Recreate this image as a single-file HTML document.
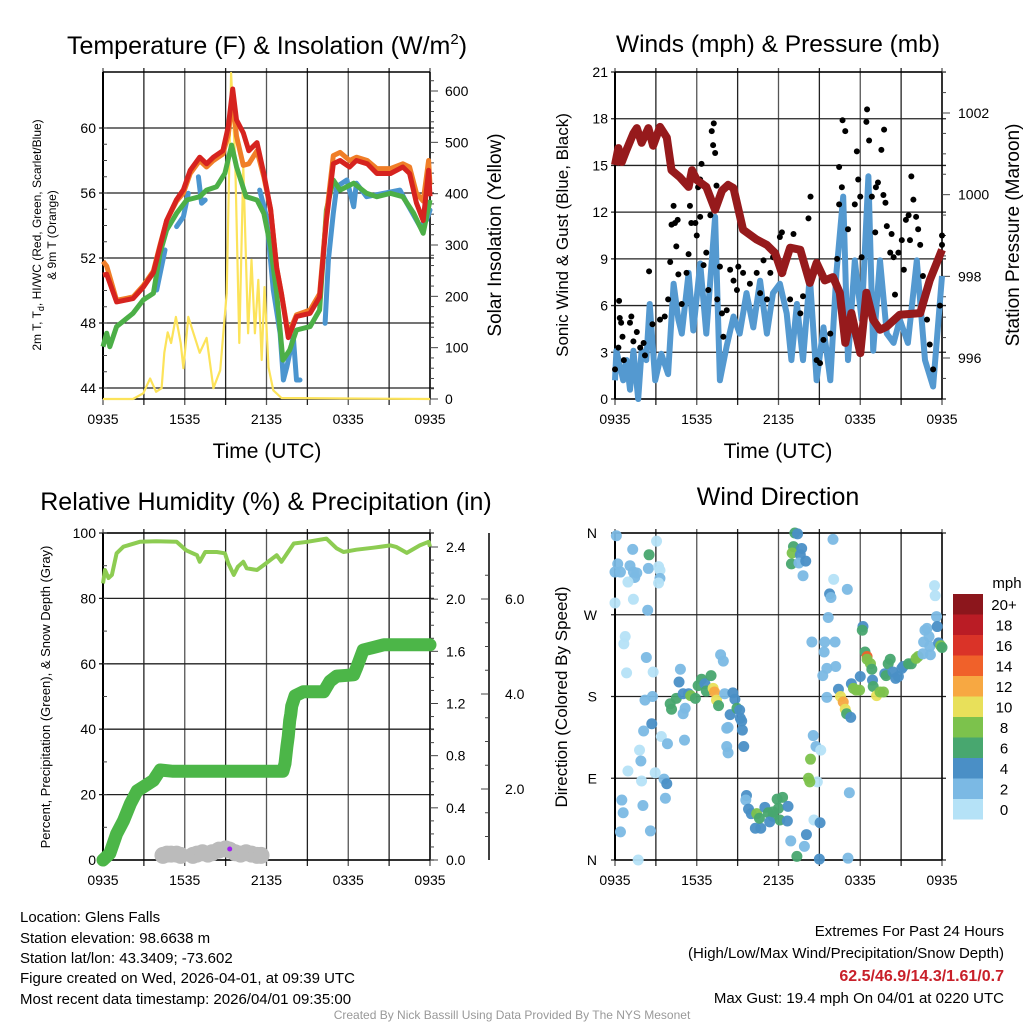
<!DOCTYPE html>
<html><head><meta charset="utf-8"><style>
html,body{margin:0;padding:0;background:#fff;}
svg{display:block;font-family:"Liberation Sans",Arial,sans-serif;}
</style></head><body>
<svg id="c" width="1024" height="1024" viewBox="0 0 1024 1024" xmlns="http://www.w3.org/2000/svg">
<rect width="1024" height="1024" fill="#fff"/>
<g id="layer"></g>
<text x="267" y="54" font-size="25" text-anchor="middle">Temperature (F) &amp; Insolation (W/m<tspan dy="-10" font-size="15">2</tspan><tspan dy="10">)</tspan></text>
<text x="778" y="52" font-size="24.5" text-anchor="middle">Winds (mph) &amp; Pressure (mb)</text>
<text x="266" y="510" font-size="25" text-anchor="middle">Relative Humidity (%) &amp; Precipitation (in)</text>
<text x="778" y="505" font-size="25" text-anchor="middle">Wind Direction</text>
<text x="267" y="458" font-size="21" text-anchor="middle">Time (UTC)</text>
<text x="778" y="458" font-size="21" text-anchor="middle">Time (UTC)</text>
<text transform="translate(41,235) rotate(-90)" font-size="12" text-anchor="middle">2m T, T<tspan dy="3" font-size="9">d</tspan><tspan dy="-3">, HI/WC (Red, Green, Scarlet/Blue)</tspan></text>
<text transform="translate(56,235) rotate(-90)" font-size="12" text-anchor="middle">&amp; 9m T (Orange)</text>
<text transform="translate(501,235) rotate(-90)" font-size="19" text-anchor="middle">Solar Insolation (Yellow)</text>
<text transform="translate(568,235) rotate(-90)" font-size="17" text-anchor="middle">Sonic Wind &amp; Gust (Blue, Black)</text>
<text transform="translate(1019,235) rotate(-90)" font-size="19" text-anchor="middle">Station Pressure (Maroon)</text>
<text transform="translate(50,697) rotate(-90)" font-size="13" text-anchor="middle">Percent, Precipitation (Green), &amp; Snow Depth (Gray)</text>
<text transform="translate(567,697) rotate(-90)" font-size="17" text-anchor="middle">Direction (Colored By Speed)</text>
<g font-size="15">
<text x="20" y="922">Location: Glens Falls</text>
<text x="20" y="943">Station elevation: 98.6638 m</text>
<text x="20" y="963">Station lat/lon: 43.3409; -73.602</text>
<text x="20" y="983">Figure created on Wed, 2026-04-01, at 09:39 UTC</text>
<text x="20" y="1004">Most recent data timestamp: 2026/04/01 09:35:00</text>
</g>
<g font-size="15" text-anchor="end">
<text x="1004" y="936">Extremes For Past 24 Hours</text>
<text x="1004" y="958">(High/Low/Max Wind/Precipitation/Snow Depth)</text>
<text x="1004" y="981" fill="#c8202a" font-weight="bold" font-size="16">62.5/46.9/14.3/1.61/0.7</text>
<text x="1004" y="1003">Max Gust: 19.4 mph On 04/01 at 0220 UTC</text>
</g>
<text x="512" y="1019" font-size="12" fill="#999" text-anchor="middle">Created By Nick Bassill Using Data Provided By The NYS Mesonet</text>
</svg>
<script>
// ---- Temperature panel data (hours since 0935 UTC) ----
const redT=[0,0.27,1.0,2.2,2.96,3.7,4.18,4.67,5.4,5.9,6.4,7.1,7.6,8.1,8.8,9.2,9.52,9.8,10.3,10.7,11.3,11.8,12.3,12.75,13.1,13.6,14.2,15.2,15.9,16.4,16.9,17.4,18.1,18.6,19.4,20.1,21.1,22.0,22.5,23.0,23.5,23.9,24];
const redV=[50.95,51,49.3,49.5,50.2,51.1,52.7,54.3,55.6,56.2,57.4,58.2,57.8,58.2,58.6,60.1,62.4,60.5,59.7,58.6,59.1,57.2,55,51.4,49.8,47.1,48.4,48.6,49.6,54.3,57.8,58,57.6,58,57.8,57.2,57.2,57.6,57.2,55.4,54.3,57.4,55.8];
const orangeV=[51.8,51.5,49.4,49.6,50.3,51.2,52.8,54.3,55.5,56.0,57.2,58.0,57.6,58.0,58.4,59.6,61.8,59.5,57.7,57.8,58.6,57.0,55,51.4,49.8,47.3,48.5,48.8,49.8,54.6,58.3,58.5,58.0,58.2,58.0,57.5,57.5,57.8,57.6,56.0,55.5,58.0,56.5];
const greenT=[0,0.27,0.5,1.0,2.2,2.96,3.7,4.18,4.67,5.4,6.14,7.1,7.6,8.34,8.95,9.44,9.8,10.5,11.3,11.8,12.3,12.75,13.2,13.7,14.2,15.2,15.9,16.4,16.9,17.4,18.4,19.35,20.1,21.1,22.0,22.8,23.5,24];
const greenV=[46.54,47.37,46.54,47.78,48.6,49.42,49.83,52.29,53.72,54.75,55.57,55.77,56.18,56.39,57.21,58.95,57.62,55.77,55.57,54.75,52.7,49.83,45.72,46.34,47.57,47.78,48.8,54.95,56.8,56.18,56.6,55.98,55.77,55.98,55.77,54.75,53.52,55.57];
const blueT=[3.94,4.55,null,5.4,5.9,6.26,null,7.0,7.24,7.5,null,11.5,12.0,12.25,12.5,13.0,13.24,13.5,13.97,14.2,14.46,null,16.3,16.54,16.9,17.15,17.9,18.4,18.6,19.35,20.6,21.8,22.3,23.27,23.75,24];
const blueV=[50.03,52.49,null,53.93,54.54,55.98,null,57.0,55.37,55.57,null,56.18,54.54,52.29,50.03,47.37,44.49,45.31,47.17,44.49,44.49,null,47.98,51.88,54.75,56.39,56.8,55.16,56.6,55.77,55.98,56.18,55.37,53.93,54.34,54.95];
const solarT=[0,2.2,2.95,3.46,3.9,4.3,4.5,4.75,5.0,5.35,5.7,5.9,6.26,6.64,7.1,7.6,8.1,8.6,9.08,9.4,9.7,10.0,10.3,10.65,10.9,11.15,11.4,11.65,11.85,12.15,12.5,13.1,24];
const solarV=[0,0,11,40,14,21,90,130,109,160,109,60,160,128,90,119,21,56,206,635,466,109,452,128,271,128,232,76,218,62,17,2,0];
// ---- Winds panel data ----
const windT=[0,0.1,0.6,0.85,1.1,1.35,1.7,1.95,2.3,2.55,2.95,3.4,3.9,4.3,4.65,4.9,5.4,5.75,6.25,6.7,7.35,7.7,8.2,8.7,9.15,9.65,10.15,10.65,11.15,11.6,12.1,12.6,12.95,13.35,13.8,14.3,14.8,15.3,15.8,16.25,16.75,17.1,17.6,18.1,18.6,18.95,19.45,19.95,20.45,20.9,21.5,22.15,22.75,23.35,24];
const windV=[1.2,3.1,1.2,2.5,0.6,3.1,0,3.1,2.5,6.1,1.2,2.9,1.6,7.4,5.1,4.2,8.1,4.4,8.7,4.2,11.7,1.2,3.4,5.3,4.2,6.8,4.6,7.6,4.2,6.8,7.4,5.5,2.5,6.1,2.5,7.9,1.2,4.6,1.2,8.1,13,2.5,8.9,5.1,14.3,3.1,8.9,4.2,3.6,5.1,3.6,8.9,2.5,0.8,7.9];
const gustT=[0,0.25,0.3,0.45,0.35,0.55,0.65,1.1,1.2,1.35,1.6,1.85,2.1,2.2,2.5,2.75,3.3,3.65,3.9,4.05,4.15,4.3,4.4,4.5,4.6,4.65,4.9,5.25,5.4,5.5,5.6,5.9,6.0,6.1,6.25,6.35,6.25,6.5,6.7,6.85,7.0,7.1,7.25,7.2,7.35,7.45,7.5,7.7,7.85,7.95,8.2,8.45,8.7,8.95,9.05,9.4,9.9,10.4,10.65,10.9,11.15,11.4,11.6,12.1,12.25,12.35,12.85,13.1,13.6,13.8,14.2,14.35,14.8,15.05,15.3,15.8,16.3,16.45,16.45,16.65,16.7,16.9,17.1,17.6,17.75,17.85,18.0,18.1,18.45,18.5,18.65,18.85,19.1,19.15,19.3,19.55,19.7,19.75,19.85,19.95,20.2,20.3,20.45,20.55,20.8,21.05,21.2,21.35,21.55,21.65,21.75,21.9,22.1,22.25,22.4,22.6,22.9,23.1,23.35,23.85,24.0,24.0];
const gustV=[1.9,3.3,6.3,4.9,5.2,4.0,2.5,4.9,5.3,3.7,4.3,3.3,3.6,2.8,8.2,4.8,5.1,5.3,6.4,8.8,11.2,12.4,11.3,9.8,11.5,8.0,6.1,8.1,9.3,12.4,11.3,11.3,10.5,13.6,14.1,15.1,11.7,8.6,9.4,7.0,11.8,17.2,17.7,16.3,15.8,13.7,6.4,8.5,5.5,4.0,5.7,8.3,7.6,7.0,8.5,8.1,7.4,8.1,6.8,8.9,6.4,8.1,9.1,10.4,10.7,8.1,6.4,10.6,5.5,6.6,11.6,13.0,2.5,2.3,3.8,4.2,9.0,12.5,14.9,13.6,17.9,17.2,10.9,12.5,15.9,14.1,13.0,9.1,17.8,18.6,16.6,13.0,10.7,13.6,13.9,16.0,13.1,17.3,12.6,11.1,9.4,10.6,9.1,6.7,9.4,10.2,8.3,11.5,11.8,10.2,14.3,12.8,11.7,10.9,9.9,7.9,5.1,3.5,1.9,6.0,9.9,10.5];
const presT=[0,0.25,0.5,0.85,1.35,1.6,1.95,2.45,2.8,3.3,3.8,4.15,4.75,5.4,5.65,6.0,6.7,7.35,7.85,8.3,8.7,9.4,10.4,11.15,11.75,12.25,12.85,13.6,14.3,14.8,15.4,16.0,16.5,16.9,17.35,18.0,18.45,18.95,19.45,19.95,20.9,22.4,23.1,24];
const presV=[1000.73,1001.14,1000.8,1001.1,1001.5,1001.63,1001.27,1001.63,1001.2,1001.66,1001.4,1000.6,1000.43,1000.19,1000.6,1000.36,1000.19,999.63,1000.1,1000.24,1000.16,999.14,998.9,998.77,998.57,998.08,998.7,998.65,997.84,998.33,997.9,997.98,997.6,996.37,997.1,996.12,997.6,996.93,996.69,996.77,997.06,997.1,997.9,998.65];
// ---- Humidity / precipitation data ----
const rhT=[0,0.15,0.4,0.65,1.0,1.5,2.7,3.9,5.4,6.1,6.9,7.1,7.5,8.35,8.95,9.2,9.6,9.9,10.3,10.55,11.3,11.8,12.75,13.1,14,15,16.4,17.15,17.65,18.6,19.85,21.1,21.55,22.3,23.25,23.9,24];
const rhV=[84.6,88.7,86.2,87.2,93.8,95.8,97.3,97.5,97.3,94.7,93.2,91.2,94.2,94.2,93.8,90.7,87.2,89.7,91.2,89.2,88.7,90.2,93.2,91.2,96.8,97.3,98.3,95.3,94.2,94.9,95.5,96.2,95.7,93.9,96.2,97.3,95.8];
const precipT=[0,0.5,1.0,1.5,2.0,2.5,2.95,3.7,4.2,5.15,8.85,13.2,13.36,13.5,13.6,13.7,13.78,13.85,14.1,14.7,16.2,16.65,17.15,18.4,18.6,19.1,19.85,20.6,24];
const precipV=[0,0.05,0.2,0.3,0.43,0.53,0.56,0.61,0.69,0.68,0.68,0.68,0.74,0.87,0.95,1.07,1.12,1.18,1.26,1.29,1.29,1.37,1.41,1.42,1.47,1.61,1.63,1.65,1.65];
const snowT=[4.4,4.7,5.0,5.4,5.7,6.6,6.9,7.3,7.7,8.0,8.5,9.0,9.3,9.7,10.1,10.5,10.9,11.3,11.6];
const snowV=[0.02,0.03,0.03,0.03,0.02,0.02,0.03,0.04,0.03,0.04,0.06,0.07,0.06,0.04,0.03,0.04,0.03,0.02,0.02];
// ---- Wind direction data ----
const dirT=[0.1,1.3,2.5,3.05,0.2,0,0.4,1.1,1.35,1.6,1.45,0.95,2.45,3.2,3.3,3.3,3.2,1.35,0,2.4,0.75,0.65,2.3,0.85,2.8,2.75,2.2,2.7,2.1,3.4,3.85,1.8,1.9,0.95,1.95,2.95,3.6,3.8,3.7,0.5,0.6,2.05,0.4,2.6,1.7,
4.7,4.05,4.15,4.5,5.0,5.4,5.55,5.9,6.1,6.35,6.6,7.05,6.7,7.2,7.3,7.45,7.6,8.05,8.65,8.8,8.45,8.95,9.15,9.2,9.3,9.35,9.45,8.2,8.3,5.15,5.0,5.1,8.2,8.3,7.75,7.95,4.8,
9.65,9.6,9.8,10.0,10.4,10.3,10.7,10.6,11.0,11.25,11.6,11.9,12.3,12.0,12.1,12.7,12.65,11.35,11.6,14.05,12.9,13.9,13.35,15.0,17.1,14.6,15.05,17.2,14.85,14.2,14.3,14.35,14.55,14.75,15.1,
13.2,13.4,13.1,13.0,13.7,13.6,12.95,13.5,14.0,13.8,16.0,16.05,17.05,15.75,15.85,15.65,
14.45,15.4,16.15,15.35,15.55,15.25,16.2,15.55,16.4,16.55,16.75,16.9,17.0,17.3,18.0,18.2,18.15,18.35,18.5,18.5,18.75,18.85,18.9,18.95,17.35,17.5,17.7,17.95,19.2,19.45,19.7,19.8,19.9,20.05,20.2,20.4,20.6,20.8,21.05,21.15,21.55,21.75,22.1,22.25,22.65,22.75,22.9,23.05,23.1,23.15,22.6,23.6,23.65,23.75,23.9,24,23.45,23.5];
const dirV=[357,342,336,351,326,317,317,324,317,316,311,306,321,323,319,310,305,287,283,275,246,238,223,206,207,180,176,150,142,136,128,121,109,98,87,96,89,84,68,66,52,60,31,32,0,
196,172,166,178,183,183,181,178,192,199,194,203,186,189,185,176,170,183,184,177,160,167,165,156,153,143,125,145,146,167,161,132,125,118,226,219,210,
71,66,56,51,51,35,35,46,58,52,48,67,69,57,44,59,43,42,53,28,21,15,4,1,2,44,41,74,86,90,86,111,137,125,121,
360,359,345,338,343,336,326,327,329,313,353,309,298,293,289,267,
240,240,240,229,211,203,213,179,188,180,174,166,161,157,202,257,253,229,224,221,216,210,198,191,194,189,187,187,181,185,185,205,203,216,221,207,200,202,211,213,216,216,222,224,240,253,255,246,235,226,227,268,257,239,236,234,302,291];
const dirS=[3,3,7,1,3,3,3,3,3,3,3,1,3,1,1,3,1,1,1,3,1,1,3,1,1,3,3,5,3,1,3,1,3,1,1,1,3,5,3,3,3,3,3,3,1,
5,7,7,7,5,5,9,7,7,7,5,7,7,11,13,11,7,3,5,5,5,7,5,5,5,5,5,3,3,3,3,3,3,3,3,3,3,
5,3,5,5,9,5,5,7,5,7,7,7,7,7,7,5,5,5,7,5,3,3,7,5,3,1,5,3,1,9,9,9,3,3,1,
7,5,7,9,5,5,7,3,5,3,3,1,3,5,3,3,
3,3,3,3,3,3,3,3,5,11,13,11,7,5,5,5,7,7,15,9,9,7,5,7,5,9,9,9,11,9,9,5,7,7,7,5,5,5,5,5,7,7,9,9,3,3,3,3,3,3,3,3,5,5,9,7,1,1];
const xTickLabels=["0935","1535","2135","0335","0935"];
const tempTicks=[44,48,52,56,60];
const solarTicks=[0,100,200,300,400,500,600];
const windTicks=[0,3,6,9,12,15,18,21];
const presTicks=[996,998,1000,1002];
const rhTicks=[0,20,40,60,80,100];
const precipTicks=[0.0,0.4,0.8,1.2,1.6,2.0,2.4];
const outerTicks=[2.0,4.0,6.0];
const dirTicks=["N","E","S","W","N"];
const speedLabels=["0","2","4","6","8","10","12","14","16","18","20+"];
const speedColors=["#b5e2f7","#7bb9e4","#4a8fc6","#48a76f","#7cc24c","#e8e05a","#f7a842","#f0612a","#da3328","#ba1c25","#8c161c"];

const NS="http://www.w3.org/2000/svg";
const layer=document.getElementById('layer');
function mk(tag,attrs,parent){const e=document.createElementNS(NS,tag);for(const k in attrs)e.setAttribute(k,attrs[k]);(parent||layer).appendChild(e);return e;}
function lin(d0,d1,r0,r1){return v=>r0+(v-d0)*(r1-r0)/(d1-d0);}
function pathD(ts,vs,sx,sy){let d="",pen=false;for(let i=0;i<ts.length;i++){if(ts[i]===null||vs[i]===null){pen=false;continue;}d+=(pen?"L":"M")+sx(ts[i]).toFixed(1)+","+sy(vs[i]).toFixed(1);pen=true;}return d;}

function frame(x0,x1,y0,y1,hLines,name){
  const g=mk('g',{});
  
  
  const sx=lin(0,24,x0,x1);
  for(let h=0;h<=24;h+=3){mk('line',{x1:sx(h),x2:sx(h),y1:y0-4,y2:y1+6,stroke:h%6===0?'#555':'#222','stroke-width':1.3},g);}
  hLines.forEach(y=>mk('line',{x1:x0-4,x2:x1+4,y1:y,y2:y,stroke:'#222','stroke-width':1.3},g));
  mk('line',{x1:x0,x2:x0,y1:y0,y2:y1,stroke:'#000','stroke-width':2},g);
  mk('line',{x1:x1,x2:x1,y1:y0,y2:y1,stroke:'#000','stroke-width':1.5},g);
  mk('line',{x1:x0,x2:x1,y1:y1,y2:y1,stroke:'#000','stroke-width':1.5},g);
  mk('line',{x1:x0,x2:x1,y1:y0,y2:y0,stroke:'#000','stroke-width':1.5},g);
  const lg=mk('g',{'font-size':14,'text-anchor':'middle'});
  
  
  xTickLabels.forEach((t,i)=>{const e=mk('text',{x:sx(i*6),y:y1+25},lg);e.textContent=t;});
  return sx;
}

// ===== Panel 1 =====
{
  const yT=lin(44,60,388,128), yS=lin(0,600,399,91);
  const sx=frame(103,430,72,399,tempTicks.map(yT),'temperature-panel');
  const g=mk('g',{'font-size':14});
  
  
  tempTicks.forEach(v=>{const e=mk('text',{x:96,y:yT(v)+5,'text-anchor':'end'},g);e.textContent=v;});
  for(let v=44;v<=60;v++){mk('line',{x1:103,x2:107,y1:yT(v),y2:yT(v),stroke:'#444'},g);}
  for(let v=0;v<=640;v+=20){const y=yS(v);if(y<72)continue;mk('line',{x1:430,x2:v%100===0?438:434,y1:y,y2:y,stroke:'#444'},g);}
  solarTicks.forEach(v=>{const e=mk('text',{x:445,y:yS(v)+5},g);e.textContent=v;});
  const s=mk('path',{d:pathD(solarT,solarV,sx,yS),fill:'none',stroke:'#fce35a','stroke-width':2.2,'stroke-linejoin':'round'});
  
  
  const b=mk('path',{d:pathD(blueT,blueV,sx,yT),fill:'none',stroke:'#4b95cf','stroke-width':5,'stroke-linejoin':'round','stroke-linecap':'round'});
  
  
  const gr=mk('path',{d:pathD(greenT,greenV,sx,yT),fill:'none',stroke:'#4caf47','stroke-width':5,'stroke-linejoin':'round'});
  
  
  const o=mk('path',{d:pathD(redT,orangeV,sx,yT),fill:'none',stroke:'#f07e28','stroke-width':5,'stroke-linejoin':'round'});
  
  
  const r=mk('path',{d:pathD(redT,redV,sx,yT),fill:'none',stroke:'#d6231f','stroke-width':5,'stroke-linejoin':'round'});
  
  
}
// ===== Panel 2 =====
{
  const yW=lin(0,21,399,72), yP=lin(996,1002,358,113);
  const sx=frame(615,942,72,399,windTicks.map(yW),'wind-panel');
  const g=mk('g',{'font-size':14});
  
  
  windTicks.forEach(v=>{const e=mk('text',{x:608,y:yW(v)+5,'text-anchor':'end'},g);e.textContent=v;});
  for(let v=995.5;v<=1003;v+=0.5){const y=yP(v);if(y<72||y>399)continue;mk('line',{x1:942,x2:Math.abs(v-Math.round(v/2)*2)<0.01?950:946,y1:y,y2:y,stroke:'#444'},g);}
  presTicks.forEach(v=>{const e=mk('text',{x:958,y:yP(v)+5},g);e.textContent=v;});
  const w=mk('path',{d:pathD(windT,windV,sx,yW),fill:'none',stroke:'#5499d0','stroke-width':6,'stroke-linejoin':'round'});
  
  
  const gg=mk('g',{});
  
  
  for(let i=0;i<gustT.length;i++){
    const c=mk('circle',{cx:sx(gustT[i]),cy:yW(gustV[i]),r:3,fill:'#000'},gg);
    
    
  }
  const p=mk('path',{d:pathD(presT,presV,sx,yP),fill:'none',stroke:'#961a1c','stroke-width':8,'stroke-linejoin':'round'});
  
  
}
// ===== Panel 3 =====
{
  const yR=lin(0,100,860,533), yPr=lin(0,2.4,860,547), yO=lin(2,6,789,599);
  const sx=frame(103,430,533,860,rhTicks.map(yR),'humidity-panel');
  const g=mk('g',{'font-size':14});
  
  
  rhTicks.forEach(v=>{const e=mk('text',{x:96,y:yR(v)+5,'text-anchor':'end'},g);e.textContent=v;});
  for(let v=0;v<=100;v+=10)mk('line',{x1:103,x2:107,y1:yR(v),y2:yR(v),stroke:'#444'},g);
  for(let v=0;v<=2.5;v+=0.1){const y=yPr(v);if(y<533)continue;mk('line',{x1:430,x2:(Math.round(v*10)%4===0)?438:434,y1:y,y2:y,stroke:'#444'},g);}
  precipTicks.forEach(v=>{const e=mk('text',{x:446,y:yPr(v)+5},g);e.textContent=v.toFixed(1);});
  mk('line',{x1:489,x2:489,y1:533,y2:860,stroke:'#000','stroke-width':1.5},g);
  for(let v=0.5;v<=6.8;v+=0.5){const y=yO(v);if(y<533||y>860)continue;mk('line',{x1:489,x2:Math.abs(v-Math.round(v/2)*2)<0.01?481:485,y1:y,y2:y,stroke:'#444'},g);}
  outerTicks.forEach(v=>{const e=mk('text',{x:505,y:yO(v)+5},g);e.textContent=v.toFixed(1);});
  const sg=mk('g',{});
  
  
  for(let i=0;i<snowT.length;i++){const c=mk('circle',{cx:sx(snowT[i]),cy:yPr(snowV[i])-2,r:8.5,fill:'#bbb'},sg);
    
    }
  const pu=mk('circle',{cx:sx(9.3),cy:849,r:2.5,fill:'#a020f0'});
  
  
  const pr=mk('path',{d:pathD(precipT,precipV,sx,yPr),fill:'none',stroke:'#4cb648','stroke-width':13,'stroke-linejoin':'round','stroke-linecap':'round'});
  
  
  const rh=mk('path',{d:pathD(rhT,rhV,sx,yR),fill:'none',stroke:'#8dcc52','stroke-width':4,'stroke-linejoin':'round'});
  
  
}
// ===== Panel 4 =====
{
  const yD=lin(0,360,860,533);
  const sx=frame(615,942,533,860,[0,90,180,270,360].map(yD),'direction-panel');
  const g=mk('g',{'font-size':14});
  
  
  dirTicks.forEach((t,i)=>{const e=mk('text',{x:597,y:yD(i*90)+5,'text-anchor':'end'},g);e.textContent=t;});
  const pg=mk('g',{});
  
  
  for(let i=0;i<dirT.length;i++){
    const bin=Math.max(0,Math.min(10,Math.floor(dirS[i]/2)));
    const c=mk('circle',{cx:sx(dirT[i]),cy:yD(dirV[i]),r:5.5,fill:speedColors[bin],'fill-opacity':0.95},pg);
    
    
  }
  const cb=mk('g',{'font-size':15,'text-anchor':'middle'});
  
  
  const t=mk('text',{x:1007,y:588},cb);t.textContent='mph';
  for(let i=0;i<11;i++){
    const y=799-i*20.5;
    mk('rect',{x:953,y:y,width:30,height:20.5,fill:speedColors[i]},cb);
    const e=mk('text',{x:1004,y:y+16},cb);e.textContent=speedLabels[i];
  }
}
</script>
</body></html>
